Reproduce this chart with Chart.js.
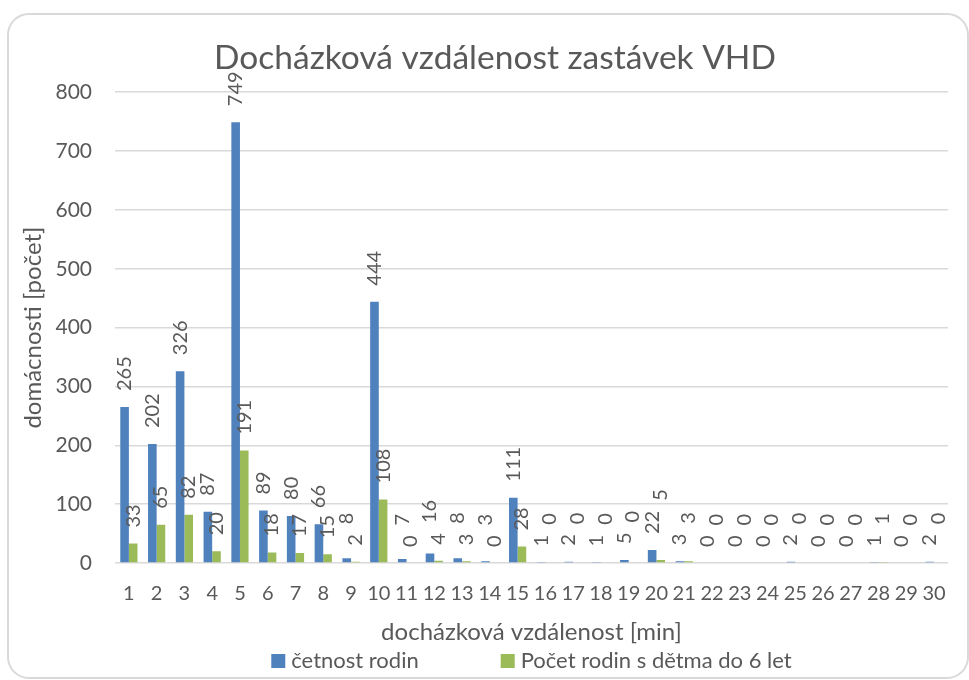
<!DOCTYPE html>
<html>
<head>
<meta charset="utf-8">
<title>Docházková vzdálenost zastávek VHD</title>
<script src="https://cdn.jsdelivr.net/npm/chart.js@4.4.1/dist/chart.umd.min.js"></script>
<style>
  body { margin: 0; background: #ffffff; }
  #wrap { position: relative; width: 969px; height: 680px; overflow: hidden; }
  #card {
    position: absolute; left: 7px; top: 13px; width: 958px; height: 662px;
    border: 2px solid #d9d9d9; border-radius: 22px;
  }
  #chart { position: absolute; left: 0; top: 0; }
</style>
</head>
<body>
<div id="wrap">
  <div id="card"></div>
  <canvas id="chart" width="969" height="680"></canvas>
</div>
<script>
// data
const minutes = ["1","2","3","4","5","6","7","8","9","10","11","12","13","14","15",
                 "16","17","18","19","20","21","22","23","24","25","26","27","28","29","30"];
const familyCounts = [265, 202, 326, 87, 749, 89, 80, 66, 8, 444, 7, 16, 8, 3, 111,
                      1, 2, 1, 5, 22, 3, 0, 0, 0, 2, 0, 0, 1, 0, 2];
const familiesWithKids = [33, 65, 82, 20, 191, 18, 17, 15, 2, 108, 0, 4, 3, 0, 28,
                          0, 0, 0, 0, 5, 3, 0, 0, 0, 0, 0, 0, 1, 0, 0];
const yTicks = [0, 100, 200, 300, 400, 500, 600, 700, 800];

const TEXT = "#595959";
const FONT = "Lato";

// rotated value labels above the bars (Excel style), pushed apart when they collide
const LABEL_PAD = 16;
const STACK_GAP = 10;
const barLabels = {
  id: "barLabels",
  afterDatasetsDraw(chart) {
    const ctx = chart.ctx;
    const metas = chart.data.datasets.map((_, d) => chart.getDatasetMeta(d));
    ctx.save();
    ctx.font = "20px " + FONT;
    ctx.fillStyle = TEXT;
    ctx.textAlign = "left";
    ctx.textBaseline = "middle";
    minutes.forEach((m, i) => {
      const items = metas.map((meta, d) => {
        const el = meta.data[i];
        const v = chart.data.datasets[d].data[i];
        const text = String(v);
        const w = ctx.measureText(text).width;
        const bottom = el.y - LABEL_PAD;
        return { x: el.x, bottom, top: bottom - w, text, v };
      });
      const [a, b] = items;
      if (a.top < b.bottom + 4 && b.top < a.bottom + 4) {
        // the taller bar keeps its label on top; past 15 min the green one goes up
        const upper = (i < 15 ? a.v > b.v : false) ? a : b;
        const lower = upper === a ? b : a;
        const shift = upper.bottom - (lower.top - STACK_GAP);
        if (shift > 0) { upper.bottom -= shift; upper.top -= shift; }
      }
      items.forEach(it => {
        ctx.save();
        ctx.translate(it.x, it.bottom);
        ctx.rotate(-Math.PI / 2);
        ctx.fillText(it.text, 0, 0);
        ctx.restore();
      });
    });
    ctx.restore();
  }
};

// legend at the bottom with a wide gap between the two entries
const bottomLegend = {
  id: "bottomLegend",
  afterDraw(chart) {
    const ctx = chart.ctx;
    const BOX = 14, BOX_GAP = 6, ITEM_GAP = 82, Y = 661;
    ctx.save();
    ctx.font = "22px " + FONT;
    ctx.textBaseline = "middle";
    ctx.textAlign = "left";
    const items = chart.data.datasets.map(ds => ({
      label: ds.label, color: ds.backgroundColor, w: ctx.measureText(ds.label).width
    }));
    const total = items.reduce((s, it) => s + BOX + BOX_GAP + it.w, 0) + ITEM_GAP * (items.length - 1);
    let x = (chart.chartArea.left + chart.chartArea.right) / 2 - total / 2;
    items.forEach(it => {
      ctx.fillStyle = it.color;
      ctx.fillRect(x, Y - BOX / 2, BOX, BOX);
      x += BOX + BOX_GAP;
      ctx.fillStyle = TEXT;
      ctx.fillText(it.label, x, Y);
      x += it.w + ITEM_GAP;
    });
    ctx.restore();
  }
};

new Chart(document.getElementById("chart"), {
  type: "bar",
  data: {
    labels: minutes,
    datasets: [
      {
        label: "četnost rodin",
        data: familyCounts,
        backgroundColor: "#4f81bd",
        categoryPercentage: 0.62,
        barPercentage: 1.0
      },
      {
        label: "Počet rodin s dětma do 6 let",
        data: familiesWithKids,
        backgroundColor: "#9bbb59",
        categoryPercentage: 0.62,
        barPercentage: 1.0
      }
    ]
  },
  options: {
    responsive: false,
    animation: false,
    // left padding moves the title's centre over to the right like in the original
    layout: { padding: { left: 42, right: 21, top: 0, bottom: 32 } },
    plugins: {
      legend: { display: false },
      tooltip: { enabled: false },
      title: {
        display: true,
        text: "Docházková vzdálenost zastávek VHD",
        color: TEXT,
        font: { family: FONT, size: 33.5, weight: "normal" },
        padding: { top: 38, bottom: 14 }
      }
    },
    scales: {
      x: {
        afterFit(s) { s.height = 85; },
        grid: { display: false },
        border: { display: false },
        ticks: {
          color: TEXT,
          font: { family: FONT, size: 20 },
          padding: 11,
          autoSkip: false,
          maxRotation: 0
        },
        title: {
          display: true,
          text: "docházková vzdálenost [min]",
          color: TEXT,
          font: { family: FONT, size: 24 },
          padding: { top: 0, bottom: 1 }
        }
      },
      y: {
        min: 0,
        max: 800,
        afterFit(s) { s.width = 73; },
        afterBuildTicks(s) { s.ticks = yTicks.map(v => ({ value: v })); },
        grid: { color: "#d9d9d9", lineWidth: 1.5, drawTicks: false },
        border: { display: false },
        ticks: {
          color: TEXT,
          font: { family: FONT, size: 21 },
          padding: 23
        },
        title: {
          display: true,
          text: "domácnosti [počet]",
          color: TEXT,
          font: { family: FONT, size: 24 },
          padding: { top: -23, bottom: 0 }
        }
      }
    }
  },
  plugins: [barLabels, bottomLegend]
});
</script>
</body>
</html>
